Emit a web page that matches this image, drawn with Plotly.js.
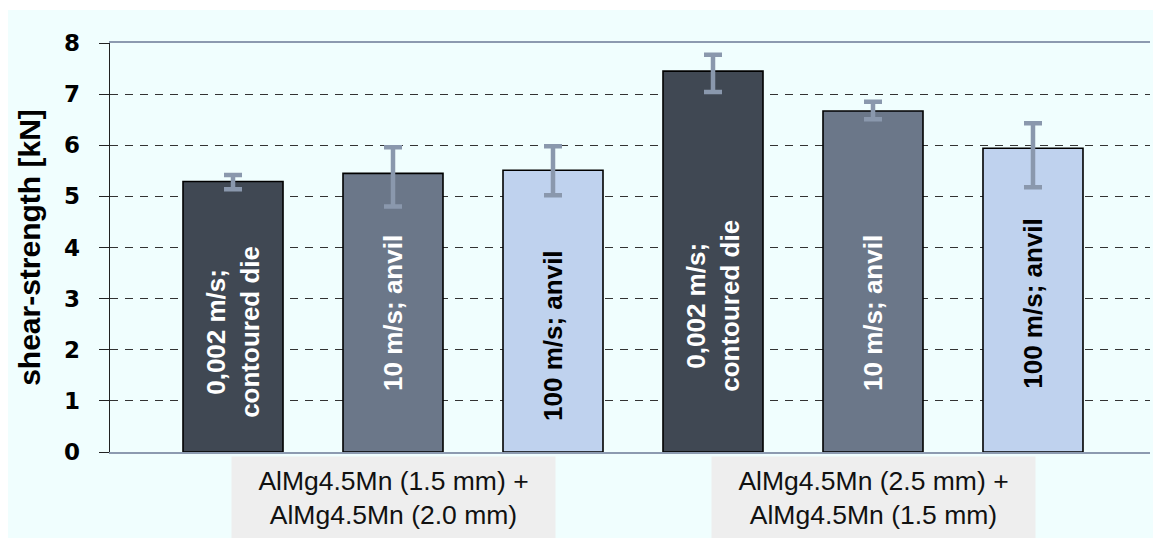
<!DOCTYPE html>
<html>
<head>
<meta charset="utf-8">
<script src="https://cdn.plot.ly/plotly-3.0.1.min.js"></script>
<style>
  html, body { margin: 0; padding: 0; background: #ffffff; width: 1153px; height: 538px; overflow: hidden; }
  #chart { position: absolute; left: 8px; top: 10px; width: 1145px; height: 528px; }
</style>
</head>
<body>
<div id="chart"></div>
<script>
// ---- data (group-major order: group 1 bars, then group 2 bars) ----
const groups = [
  'AlMg4.5Mn (1.5 mm) +<br>AlMg4.5Mn (2.0 mm)',
  'AlMg4.5Mn (2.5 mm) +<br>AlMg4.5Mn (1.5 mm)'
];
const conditions = ['0,002 m/s;<br>contoured die', '10 m/s; anvil', '100 m/s; anvil'];
const strength  = [5.29, 5.45, 5.51, 7.45, 6.67, 5.94];
const errPlus   = [0.13, 0.51, 0.47, 0.32, 0.18, 0.49];
const errMinus  = [0.15, 0.65, 0.49, 0.41, 0.16, 0.76];
const yTicks    = [0, 1, 2, 3, 4, 5, 6, 7, 8];

// ---- styles ----
const barColors  = ['#404853', '#6b7789', '#bfd2ee'];
const labelColors = ['#ffffff', '#ffffff', '#000000'];
const labelY = [2.35, 2.72, 2.27, 2.86, 2.72, 2.90]; // label centre heights
const errColor = '#8a98ad';
const nC = conditions.length;

const pick = (arr, c) => groups.map((g, gi) => arr[gi * nC + c]);

const traces = conditions.map((cond, c) => ({
  type: 'bar',
  name: cond,
  x: groups.map((g, gi) => gi),
  y: pick(strength, c),
  marker: { color: barColors[c], line: { color: '#000000', width: 1.6 } },
  error_y: {
    type: 'data', symmetric: false,
    array: pick(errPlus, c), arrayminus: pick(errMinus, c),
    color: errColor, thickness: 4.5, width: 9
  },
  hoverinfo: 'y',
  showlegend: false
}));

const annotations = [];
groups.forEach((g, gi) => {
  conditions.forEach((cond, c) => {
    annotations.push({
      xref: 'x', yref: 'y', x: gi, y: labelY[gi * nC + c],
      xshift: (c - 1) * 160,
      text: cond, showarrow: false, textangle: -90,
      font: { family: 'Liberation Sans, Arial, sans-serif', size: 26, color: labelColors[c], weight: 'bold' },
      align: 'center', xanchor: 'center', yanchor: 'middle'
    });
  });
  annotations.push({
    xref: 'x', yref: 'paper', x: gi, y: 0, yanchor: 'top', xanchor: 'center', yshift: -4,
    text: g, showarrow: false, width: 321, height: 80, bgcolor: '#eeeeee',
    align: 'center', valign: 'middle',
    font: { family: 'Liberation Sans, Arial, sans-serif', size: 26.5, color: '#111111' }
  });
});

const layout = {
  width: 1145, height: 528,
  margin: { l: 102, r: 3, t: 33, b: 86, pad: 0 },
  paper_bgcolor: '#f0fefe',
  plot_bgcolor: '#f0fefe',
  barmode: 'group', bargap: 0, bargroupgap: 0.375,
  showlegend: false,
  xaxis: {
    type: 'linear', range: [-0.5896, 1.5771],
    showticklabels: false, ticks: '', showgrid: false, zeroline: false,
    showline: true, linecolor: '#8c9ab0', linewidth: 2, mirror: true
  },
  yaxis: {
    range: [0, 8], tickvals: yTicks, ticktext: yTicks.map(String),
    showgrid: true, gridcolor: '#333333', gridwidth: 1, griddash: '8px,7px',
    zeroline: false, showline: true, linecolor: '#222222', linewidth: 1.5,
    ticks: 'outside', ticklen: 10, tickcolor: '#222222', tickwidth: 1,
    ticklabelstandoff: 14,
    tickfont: { family: 'DejaVu Sans, Liberation Sans, sans-serif', size: 23, color: '#000000', weight: 'bold' },
    title: {
      text: 'shear-strength [kN]', standoff: 14,
      font: { family: 'Liberation Sans, Arial, sans-serif', size: 30, color: '#000000', weight: 'bold' }
    }
  },
  annotations: annotations
};

Plotly.newPlot('chart', traces, layout, { displayModeBar: false, staticPlot: true });
</script>
</body>
</html>
